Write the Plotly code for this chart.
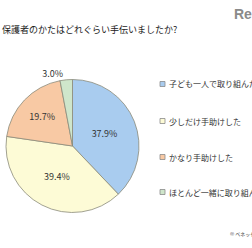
import plotly.graph_objects as go

categories = ["子ども一人で取り組んだ", "少しだけ手助けした", "かなり手助けした", "ほとんど一緒に取り組んだ"]
values = [37.9, 39.4, 19.7, 3.0]
colors = ["#a9ccef", "#fdfbd6", "#f8c9a4", "#cfe6cb"]
legend_y = [84, 121, 157, 192]

W, H = 252, 248
font = "Noto Sans CJK JP"

fig = go.Figure()
fig.add_trace(go.Pie(
    labels=categories, values=values, sort=False, direction="clockwise", rotation=0,
    marker=dict(colors=colors, line=dict(color="#8a8a7a", width=0.8)),
    texttemplate="%{value:.1f}%", textinfo="text",
    textposition=["inside", "inside", "inside", "outside"],
    insidetextorientation="horizontal",
    textfont=dict(family=font, size=9, color="#333333"),
    showlegend=False, automargin=False,
    domain=dict(x=[6 / W, 139 / W], y=[(H - 213) / H, (H - 79) / H]),
    hoverinfo="label+percent",
))

ann = []
shapes = []
ann.append(dict(text="保護者のかたはどれぐらい手伝いましたか?", x=0, y=1 - 29 / H, xref="paper", yref="paper",
                xanchor="left", yanchor="middle", showarrow=False,
                font=dict(family=font, size=9, color="#222222")))
ann.append(dict(text="<b>Re</b>", x=1 + 2 / W, y=1 - 14 / H, xref="paper", yref="paper",
                xanchor="right", yanchor="middle", showarrow=False,
                font=dict(family="Liberation Sans", size=14, color="#8a8a8a")))
ann.append(dict(text="© ベネッセ", x=228 / W, y=1 - 234 / H, xref="paper", yref="paper",
                xanchor="left", yanchor="middle", showarrow=False,
                font=dict(family=font, size=5, color="#444444")))
for cat, col, yy in zip(categories, colors, legend_y):
    shapes.append(dict(type="rect", xref="paper", yref="paper",
                       x0=160 / W, x1=165 / W, y0=1 - (yy + 2.5) / H, y1=1 - (yy - 2.5) / H,
                       fillcolor=col, line=dict(color="#8a8a8a", width=0.8)))
    ann.append(dict(text=cat, x=166.5 / W, y=1 - yy / H, xref="paper", yref="paper",
                    xanchor="left", yanchor="middle", showarrow=False,
                    font=dict(family=font, size=8, color="#333333")))

fig.update_layout(width=W, height=H, margin=dict(l=0, r=0, t=0, b=0),
                  paper_bgcolor="white", plot_bgcolor="white",
                  annotations=ann, shapes=shapes)
fig.write_html("out.html")
